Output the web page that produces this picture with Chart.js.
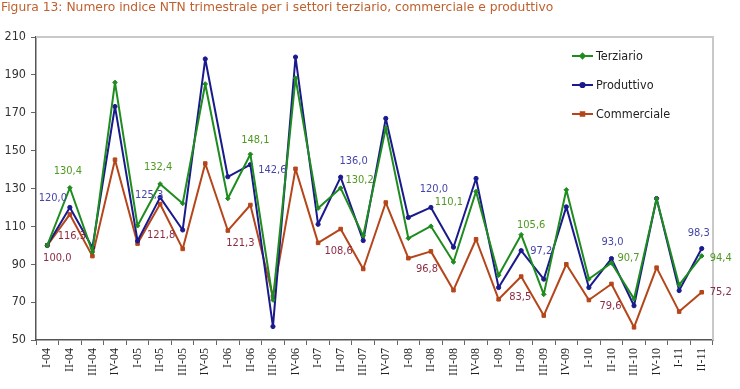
<!DOCTYPE html>
<html>
<head>
<meta charset="utf-8">
<script src="https://cdn.jsdelivr.net/npm/chart.js@4.4.1/dist/chart.umd.min.js"></script>
<style>
html,body{margin:0;padding:0;background:#fff;}
#wrap{width:740px;height:389px;position:relative;}
</style>
</head>
<body>
<div id="wrap"><canvas id="c" width="740" height="389"></canvas></div>
<script>
const titleText = 'Figura 13: Numero indice NTN trimestrale per i settori terziario, commerciale e produttivo';
const categories = ['I-04','II-04','III-04','IV-04','I-05','II-05','III-05','IV-05','I-06','II-06','III-06','IV-06','I-07','II-07','III-07','IV-07','I-08','II-08','III-08','IV-08','I-09','II-09','III-09','IV-09','I-10','II-10','III-10','IV-10','I-11','II-11'];
const seriesNames = ['Terziario','Produttivo','Commerciale'];
const terziario = [100.0,130.4,96.5,186.0,110.3,132.4,122.1,185.2,124.7,148.1,71.1,188.3,119.6,130.2,105.0,161.9,103.7,110.1,91.2,128.4,84.2,105.6,74.1,129.3,82.2,90.7,71.7,124.5,79.1,94.4];
const produttivo = [100.0,120.0,98.8,173.3,102.3,125.3,108.1,198.4,136.2,142.6,57.1,199.4,111.1,136.0,102.5,167.0,114.7,120.0,99.0,135.3,77.7,97.2,82.1,120.3,77.7,93.0,68.1,124.7,76.1,98.3];
const commerciale = [100.0,116.3,94.3,145.2,100.9,121.8,98.1,143.2,107.8,121.3,72.9,140.4,101.3,108.6,87.5,122.6,93.2,96.8,76.3,103.2,71.5,83.5,62.9,90.0,71.1,79.6,56.7,88.2,65.0,75.2];
const yMin = 50, yMax = 210, yStep = 20;

// which values get a data label (series index, point index) and where
const labelSpecs = [
  {s:2,i:0,dx:10,dy:13},
  {s:0,i:1,dx:-2,dy:-17},{s:1,i:1,dx:-17,dy:-9},{s:2,i:1,dx:2,dy:22},
  {s:0,i:5,dx:-2,dy:-17},{s:1,i:5,dx:-11,dy:-2},{s:2,i:5,dx:1,dy:31},
  {s:0,i:9,dx:5,dy:-14},{s:1,i:9,dx:22,dy:6},{s:2,i:9,dx:-10,dy:38},
  {s:1,i:13,dx:13,dy:-16},{s:0,i:13,dx:19,dy:-8},{s:2,i:13,dx:-2,dy:22},
  {s:1,i:17,dx:3,dy:-18},{s:0,i:17,dx:18,dy:-24},{s:2,i:17,dx:-4,dy:18},
  {s:0,i:21,dx:10,dy:-10},{s:1,i:21,dx:20,dy:1},{s:2,i:21,dx:-1,dy:21},
  {s:1,i:25,dx:1,dy:-16},{s:0,i:25,dx:17,dy:-5},{s:2,i:25,dx:-1,dy:22},
  {s:1,i:29,dx:-3,dy:-15},{s:0,i:29,dx:19,dy:2},{s:2,i:29,dx:19,dy:0}
];

const lineColors = ['#1e8c1e','#1a1a8c','#b5451a'];
const labelColors = ['#4f9a22','#4646aa','#8c2c44'];
const pointStyles = ['rectRot','circle','rect'];
const pointRadii = [2.3,2.1,2.5];
const sansFont = '"DejaVu Sans Condensed", "Liberation Sans", sans-serif';

const fmt = v => v.toFixed(1).replace('.', ',');

const titlePlugin = {
  id:'titleP',
  beforeDraw(chart){
    const ctx = chart.ctx;
    ctx.save();
    ctx.fillStyle = '#c0602e';
    ctx.font = '12.3px "DejaVu Sans", sans-serif';
    ctx.textBaseline = 'alphabetic';
    ctx.textAlign = 'left';
    ctx.fillText(titleText, 1, 10.5);
    ctx.restore();
  }
};

const framePlugin = {
  id:'frameP',
  beforeDatasetsDraw(chart){
    const a = chart.chartArea, ctx = chart.ctx;
    ctx.save();
    ctx.strokeStyle = '#c8c8c8';
    ctx.lineWidth = 2;
    ctx.beginPath();
    ctx.moveTo(a.left, a.top);
    ctx.lineTo(a.right, a.top);
    ctx.lineTo(a.right, a.bottom);
    ctx.stroke();
    ctx.restore();
  }
};

const labelPlugin = {
  id:'labelP',
  afterDatasetsDraw(chart){
    const ctx = chart.ctx;
    ctx.save();
    ctx.font = '11px ' + sansFont;
    ctx.textAlign = 'center';
    ctx.textBaseline = 'middle';
    labelSpecs.forEach(sp => {
      const meta = chart.getDatasetMeta(sp.s);
      const pt = meta.data[sp.i];
      const v = chart.data.datasets[sp.s].data[sp.i];
      ctx.fillStyle = labelColors[sp.s];
      ctx.fillText(fmt(v), pt.x + sp.dx, pt.y + sp.dy);
    });
    ctx.restore();
  }
};

const legendPlugin = {
  id:'legendP',
  afterDraw(chart){
    const ctx = chart.ctx;
    const x0 = 572, x1 = 593, tx = 596, ys = [56, 85, 114];
    ctx.save();
    ctx.font = '12.5px ' + sansFont;
    ctx.textBaseline = 'middle';
    ctx.textAlign = 'left';
    seriesNames.forEach((n, k) => {
      ctx.strokeStyle = lineColors[k];
      ctx.lineWidth = 2;
      ctx.beginPath();
      ctx.moveTo(x0, ys[k]); ctx.lineTo(x1, ys[k]); ctx.stroke();
      ctx.fillStyle = lineColors[k];
      Chart.helpers.drawPoint(ctx, {pointStyle: pointStyles[k], radius: pointRadii[k], rotation: 0, borderWidth: 1}, (x0 + x1) / 2, ys[k]);
      ctx.fillStyle = '#222';
      ctx.fillText(n, tx, ys[k] + 0.5);
    });
    ctx.restore();
  }
};

const seriesData = [terziario, produttivo, commerciale];
const datasets = seriesData.map((d, k) => ({
  label: seriesNames[k],
  data: d,
  borderColor: lineColors[k],
  backgroundColor: lineColors[k],
  pointBackgroundColor: lineColors[k],
  pointBorderColor: lineColors[k],
  borderWidth: 2,
  borderJoinStyle: 'round',
  pointStyle: pointStyles[k],
  pointRadius: pointRadii[k],
  pointBorderWidth: 1,
  tension: 0,
  fill: false
}));

new Chart(document.getElementById('c'), {
  type: 'line',
  data: {labels: categories, datasets},
  options: {
    responsive: false,
    animation: false,
    events: [],
    layout: {padding: {top: 37, right: 27, left: 0, bottom: 0}},
    plugins: {legend: {display: false}, tooltip: {enabled: false}, title: {display: false}},
    scales: {
      x: {
        type: 'category',
        offset: true,
        grid: {offset: true, drawOnChartArea: false, tickLength: 5, color: '#666', lineWidth: 1},
        border: {color: '#555', width: 1.5},
        ticks: {autoSkip: false, maxRotation: 90, minRotation: 90, padding: 3, color: '#222', font: {family: '"Liberation Serif", serif', size: 12}},
        afterFit(s){ s.height = 49; }
      },
      y: {
        min: yMin, max: yMax,
        grid: {drawOnChartArea: false, tickLength: 5, color: '#666', lineWidth: 1},
        border: {color: '#555', width: 1.5},
        ticks: {stepSize: yStep, padding: 5, color: '#333', font: {family: sansFont, size: 12.5}},
        afterFit(s){ s.width = 36; }
      }
    }
  },
  plugins: [titlePlugin, framePlugin, labelPlugin, legendPlugin]
});
</script>
</body>
</html>
